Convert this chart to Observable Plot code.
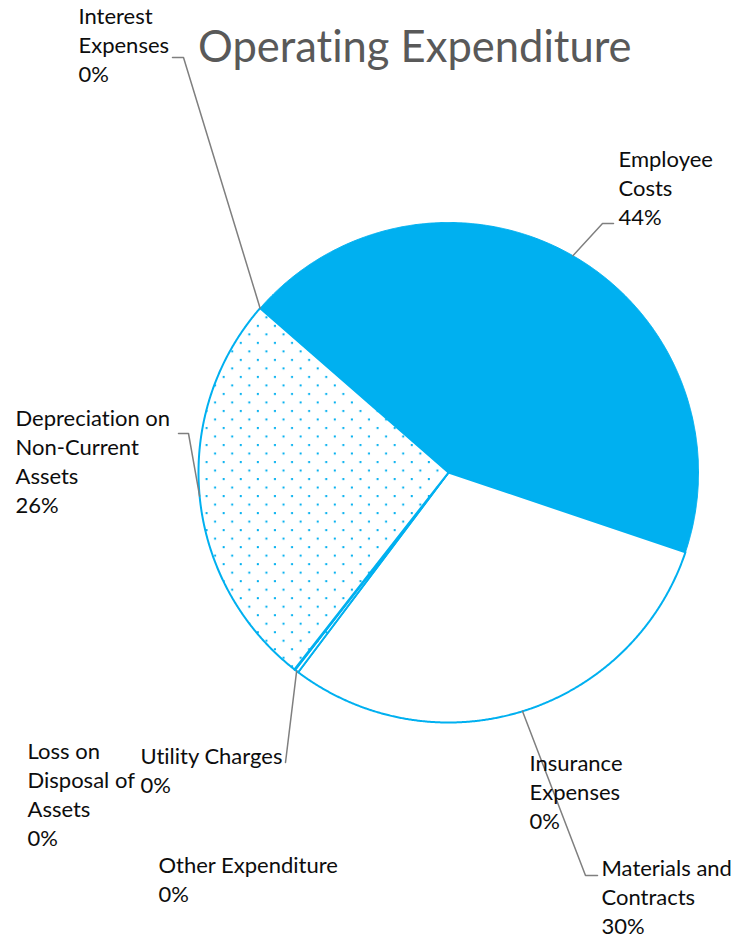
<!DOCTYPE html>
<html>
<head>
<meta charset="utf-8">
<script src="https://cdn.jsdelivr.net/npm/d3@7"></script>
<script src="https://cdn.jsdelivr.net/npm/@observablehq/plot@0.6"></script>
<style>
  html, body { margin: 0; padding: 0; background: #fff; }
  #wrap { position: relative; width: 743px; height: 938px; }
  #title { position: absolute; left: 198px; top: 24px; margin: 0; font-family: Lato, sans-serif; font-weight: 400; font-size: 43.5px; line-height: 43px; color: #595959; white-space: nowrap; font-variant-ligatures: none; font-feature-settings: "liga" 0; }
  svg text { font-variant-ligatures: none; font-feature-settings: "liga" 0; }
</style>
</head>
<body>
<div id="wrap">
  <div id="chart"></div>
  <h1 id="title">Operating Expenditure</h1>
</div>
<script>
// ---- data (clockwise order from the first slice) ----
const categories = ["Interest Expenses", "Employee Costs", "Insurance Expenses", "Materials and Contracts",
                    "Other Expenditure", "Utility Charges", "Loss on Disposal of Assets", "Depreciation on Non-Current Assets"];
const shares = [0, 43.75, 0, 30.1, 0, 0.25, 0.05, 25.85];
const labelLines = ["Interest\nExpenses", "Employee\nCosts", "Insurance\nExpenses", "Materials and\nContracts",
                    "Other Expenditure", "Utility Charges", "Loss on\nDisposal of\nAssets", "Depreciation on\nNon-Current\nAssets"];

// ---- layout ----
const W = 743, H = 938;
const cx = 448, cy = 472, R = 250;
const startDeg = -48.9;
const sliceFill = {
  "Employee Costs": "#00B0F0",
  "Materials and Contracts": "#ffffff",
  "Utility Charges": "url(#dots)",
  "Loss on Disposal of Assets": "url(#dots)",
  "Depreciation on Non-Current Assets": "url(#dots)"
};
// label anchor (left x, top of first line box)
const labelPos = {
  "Interest Expenses": [78, 3],
  "Employee Costs": [618, 146],
  "Insurance Expenses": [529, 750],
  "Materials and Contracts": [601, 855],
  "Other Expenditure": [158, 852],
  "Utility Charges": [140, 743],
  "Loss on Disposal of Assets": [27, 738],
  "Depreciation on Non-Current Assets": [15, 405]
};
// leader lines: points after the slice edge midpoint
const leaderPath = {
  "Interest Expenses": [[183, 57], [172, 57]],
  "Employee Costs": [[602, 223], [613, 223]],
  "Depreciation on Non-Current Assets": [[188, 433], [178, 433]],
  "Utility Charges": [[285, 762]],
  "Materials and Contracts": [[585, 875], [597, 875]]
};

const rows = categories.map((c, i) => ({category: c, value: shares[i], label: labelLines[i] + "\n" + Math.round(shares[i]) + "%"}));
const arcs = d3.pie().sort(null).value(d => d.value)
  .startAngle(startDeg * Math.PI / 180).endAngle(startDeg * Math.PI / 180 + 2 * Math.PI)(rows);

const px = a => cx + R * Math.sin(a);
const py = a => cy - R * Math.cos(a);

const marks = [];
for (const a of arcs) {
  const fill = sliceFill[a.data.category];
  if (!fill || a.data.value <= 0) continue;
  const pts = [{x: cx, y: cy}];
  const n = Math.max(2, Math.ceil((a.endAngle - a.startAngle) / (0.25 * Math.PI / 180)));
  for (let k = 0; k <= n; k++) {
    const t = a.startAngle + (a.endAngle - a.startAngle) * k / n;
    pts.push({x: px(t), y: py(t)});
  }
  marks.push(Plot.line(pts, {x: "x", y: "y", fill, stroke: "#00B0F0", strokeWidth: a.data.category === "Employee Costs" ? 1 : 2, curve: "linear-closed", strokeLinejoin: "round"}));
}

// leaders
const leaderRows = [];
for (const a of arcs) {
  const path = leaderPath[a.data.category];
  if (!path) continue;
  const mid = (a.startAngle + a.endAngle) / 2;
  leaderRows.push({category: a.data.category, x: px(mid), y: py(mid)});
  for (const [x, y] of path) leaderRows.push({category: a.data.category, x, y});
}
marks.push(Plot.line(leaderRows, {x: "x", y: "y", z: "category", stroke: "#7F7F7F", strokeWidth: 1.5}));

// labels
const labelRows = rows.map(d => ({...d, lx: labelPos[d.category][0], ly: labelPos[d.category][1]}));
marks.push(Plot.text(labelRows, {x: "lx", y: "ly", text: "label", textAnchor: "start", lineAnchor: "top", lineHeight: 1.318, fontSize: 22, fill: "#0d0d0d"}));

const svg = Plot.plot({
  width: W, height: H,
  margin: 0,
  x: {domain: [0, W], range: [0, W], axis: null},
  y: {domain: [0, H], range: [0, H], axis: null},
  style: {fontFamily: "Lato, sans-serif", background: "#fff", overflow: "visible"},
  marks
});

const defs = d3.select(svg).insert("defs", ":first-child");
const pat = defs.append("pattern").attr("id", "dots").attr("patternUnits", "userSpaceOnUse")
  .attr("width", 17.1).attr("height", 17.02);
pat.append("rect").attr("width", 17.1).attr("height", 17.02).attr("fill", "#fff");
pat.append("rect").attr("x", 8.4).attr("y", 9.5).attr("width", 2).attr("height", 2).attr("fill", "#00B0F0");
pat.append("rect").attr("x", -0.15).attr("y", 1.0).attr("width", 2).attr("height", 2).attr("fill", "#00B0F0");
pat.append("rect").attr("x", 16.95).attr("y", 1.0).attr("width", 2).attr("height", 2).attr("fill", "#00B0F0");

document.getElementById("chart").appendChild(svg);
</script>
</body>
</html>
